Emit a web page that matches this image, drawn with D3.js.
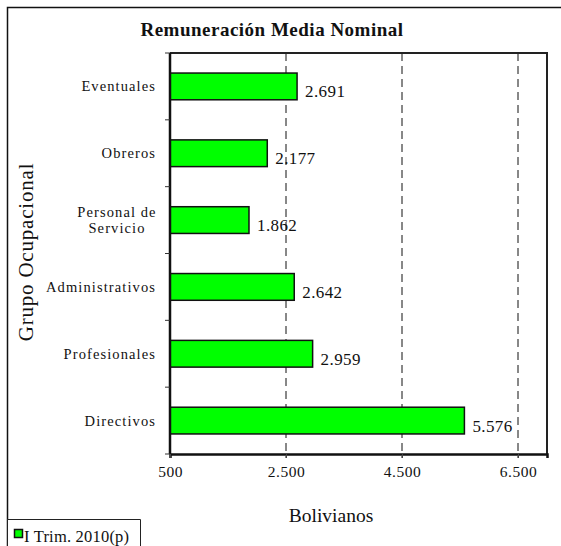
<!DOCTYPE html>
<html><head><meta charset="utf-8">
<script src="https://cdn.jsdelivr.net/npm/d3@7"></script>
<style>body{margin:0;background:#fff}svg{display:block}text{font-family:"Liberation Serif","Times New Roman",serif;fill:#111}</style>
</head><body>
<svg id="c" width="561" height="546"></svg>
<script>
const categories = ["Eventuales","Obreros","Personal de\nServicio","Administrativos","Profesionales","Directivos"];
const values = [2691, 2177, 1862, 2642, 2959, 5576];
const valueLabels = ["2.691","2.177","1.862","2.642","2.959","5.576"];
const tickValues = [500, 2500, 4500, 6500];
const tickLabels = ["500","2.500","4.500","6.500"];
const seriesName = "I Trim. 2010(p)";
const title = "Remuneración Media Nominal";
const xTitle = "Bolivianos";
const yTitle = "Grupo Ocupacional";

const FF = "Liberation Serif";
const svg = d3.select("#c");
const L = 170, R = 547, T = 53, B = 454;
const x = d3.scaleLinear().domain([500, 7000]).range([L, R]);
const y = d3.scaleBand().domain(categories).range([T, B]).paddingInner(0.6).paddingOuter(0.3);

// outer frame (top & left visible)
svg.append("path").attr("d", "M7.5,560 V7.5 H570").attr("fill","none").attr("stroke","#111").attr("stroke-width",1.5);

// title
svg.append("text").attr("x", 272).attr("y", 36).attr("text-anchor","middle").attr("font-family",FF)
  .attr("font-size", 19).attr("font-weight","bold").attr("letter-spacing", 0.5).text(title);

// gridlines
svg.append("g").selectAll("line").data(tickValues.slice(1)).join("line")
  .attr("x1", d => x(d)).attr("x2", d => x(d)).attr("y1", T).attr("y2", B + 4)
  .attr("stroke","#111").attr("stroke-width",1).attr("stroke-dasharray","8,5");

// plot frame top/right
svg.append("path").attr("d", `M${L},${T} H${R} V${B}`).attr("fill","none").attr("stroke","#222").attr("stroke-width",2);

// bars
svg.append("g").selectAll("rect").data(values).join("rect")
  .attr("x", x(500)).attr("y", (d,i) => y(categories[i]))
  .attr("width", d => x(d) - x(500)).attr("height", y.bandwidth())
  .attr("fill","#00ff00").attr("stroke","#111").attr("stroke-width",1.5);

// value labels
svg.append("g").selectAll("text").data(values).join("text")
  .attr("x", d => x(d) + 8).attr("y", (d,i) => y(categories[i]) + y.bandwidth()/2 + 11)
  .attr("font-family",FF).attr("font-size", 17).attr("letter-spacing", 0.4).text((d,i) => valueLabels[i]);

// x axis
const xAxis = d3.axisBottom(x).tickValues(tickValues).tickFormat((d,i) => tickLabels[i]).tickSize(4).tickPadding(8);
const gx = svg.append("g").attr("transform", `translate(0,${B})`).call(xAxis);
gx.select(".domain").attr("stroke","#111").attr("stroke-width",2.5);
gx.selectAll(".tick line").attr("stroke","#444");
gx.selectAll("text").attr("font-size",15.5).attr("letter-spacing",0.5).attr("font-family",FF).attr("fill","#111");

// y axis (ticks at band boundaries)
const yAxisG = svg.append("g");
yAxisG.append("line").attr("x1",L).attr("x2",L).attr("y1",T).attr("y2",B).attr("stroke","#111").attr("stroke-width",2.5);
const step = y.step();
yAxisG.selectAll("line.t").data(d3.range(categories.length + 1)).join("line").attr("class","t")
  .attr("x1", L - 5).attr("x2", L).attr("y1", i => T + i*step).attr("y2", i => T + i*step)
  .attr("stroke","#333").attr("stroke-width",1);

// category labels
categories.forEach((c,i) => {
  const cy = y(c) + y.bandwidth()/2;
  const lines = c.split("\n");
  if (lines.length === 1) {
    svg.append("text").attr("x", 156).attr("y", cy + 5).attr("text-anchor","end").attr("font-family",FF)
      .attr("font-size", 14.5).attr("letter-spacing", 1.1).text(c);
  } else {
    lines.forEach((ln, k) => {
      svg.append("text").attr("x", 117).attr("y", cy - 3 + k*16).attr("text-anchor","middle").attr("font-family",FF)
        .attr("font-size", 14.5).attr("letter-spacing", 1.1).text(ln);
    });
  }
});

// axis titles
svg.append("text").attr("x", 331).attr("y", 522).attr("text-anchor","middle").attr("font-family",FF).attr("font-size",19.5).text(xTitle);
svg.append("text").attr("transform","translate(33,252) rotate(-90)").attr("text-anchor","middle").attr("font-family",FF)
  .attr("font-size",21).attr("letter-spacing",0.8).text(yTitle);

// legend
svg.append("path").attr("d","M7.5,560 V519.5 H140.5 V560").attr("fill","#fff").attr("stroke","#222").attr("stroke-width",1);
svg.append("rect").attr("x",14.5).attr("y",529.5).attr("width",8).attr("height",8).attr("fill","#00ff00").attr("stroke","#111").attr("stroke-width",1.5);
svg.append("text").attr("x",24).attr("y",542).attr("font-family",FF).attr("font-size",16.5).attr("letter-spacing",0.2).text(seriesName);
</script>
</body></html>
